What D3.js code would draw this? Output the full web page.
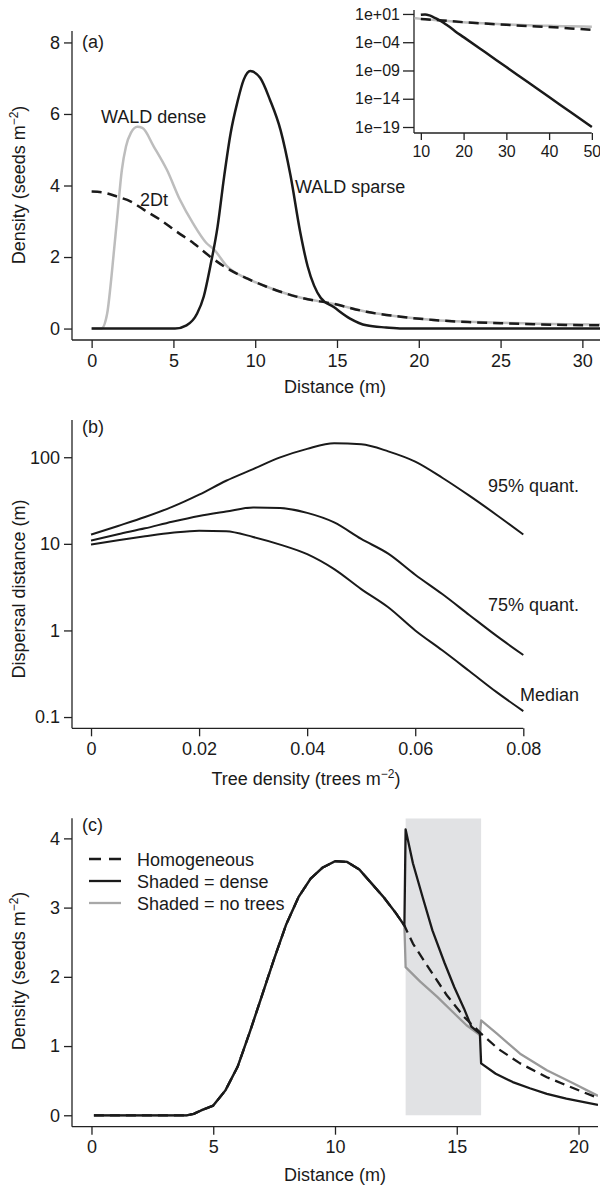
<!DOCTYPE html>
<html><head><meta charset="utf-8">
<script src="https://cdn.jsdelivr.net/npm/d3@7"></script>
<style>
body{margin:0;background:#fff}
svg text{font-family:"Liberation Sans",Arial,Helvetica,sans-serif;fill:#1a1a1a}
</style></head><body>
<svg id="chart" width="600" height="1187"></svg>
<script>
// ---------- Panel (a) data ----------
const waldDenseX = [0, 0.6, 0.95, 1.15, 1.35, 1.55, 1.85, 2.1, 2.4, 2.8, 3.1, 3.8, 4.6, 5.4, 6.2, 7.0, 7.5, 8.3, 9.5, 10.7, 12.8, 14.8, 16.8, 18.9, 20.9, 23, 25, 27, 29, 31.2];
const waldDenseY = [0, 0, 0.42, 1.17, 2.1, 3.04, 4.44, 5.09, 5.47, 5.64, 5.61, 5.09, 4.44, 3.6, 2.94, 2.4, 2.2, 1.73, 1.4, 1.17, 0.86, 0.69, 0.47, 0.33, 0.24, 0.19, 0.16, 0.14, 0.12, 0.11];
const twoDtX = [0, 0.75, 1.55, 2.4, 3.2, 4.2, 5.2, 6.25, 7.25, 8.3, 9.5, 10.7, 12.8, 14.8, 16.8, 18.9, 20.9, 23, 25, 27, 29, 31.2];
const twoDtY = [3.83, 3.8, 3.69, 3.55, 3.32, 3.04, 2.71, 2.38, 2.01, 1.68, 1.4, 1.17, 0.86, 0.69, 0.47, 0.33, 0.24, 0.18, 0.15, 0.12, 0.1, 0.09];
const waldSparseX = [0, 5.1, 5.8, 6.45, 6.85, 7.25, 7.7, 8.1, 8.5, 8.9, 9.3, 9.7, 10.3, 10.9, 11.55, 12.15, 12.75, 13.2, 13.6, 14.0, 14.8, 15.8, 16.8, 18.0, 19.0, 31.2];
const waldSparseY = [0, 0, 0.09, 0.42, 0.89, 1.73, 2.85, 4.25, 5.47, 6.31, 6.96, 7.2, 7.01, 6.4, 5.55, 4.3, 2.7, 1.75, 1.2, 0.86, 0.6, 0.28, 0.09, 0.03, 0, 0];
const xTicksA = [0, 5, 10, 15, 20, 25, 30];
const yTicksA = [0, 2, 4, 6, 8];

// ---------- Inset data (log scale) ----------
const insetSparseX = [10, 11, 12, 13, 14, 15, 16, 17, 18, 20, 25, 30, 35, 40, 45, 50];
const insetSparseY = [7.1, 8.0, 5.5, 2.6, 1.1, 0.4, 0.12, 0.035, 0.009, 8e-4, 1.8e-6, 4e-9, 9e-12, 2e-14, 4.5e-17, 1e-19];
const insetDenseX = [8.5, 10, 15, 20, 25, 30, 35, 40, 45, 50];
const insetDenseY = [1.8, 1.35, 0.7, 0.35, 0.22, 0.14, 0.1, 0.08, 0.065, 0.055];
const insetTwoDtX = [10, 15, 20, 25, 30, 35, 40, 45, 50];
const insetTwoDtY = [1.3, 0.7, 0.35, 0.2, 0.12, 0.075, 0.048, 0.028, 0.015];
const insetXTicks = [10, 20, 30, 40, 50];
const insetYTicks = [1e1, 1e-4, 1e-9, 1e-14, 1e-19];
const insetYLabels = ["1e+01", "1e\u221204", "1e\u221209", "1e\u221214", "1e\u221219"];

// ---------- Panel (b) data ----------
const treeDensity = [0, 0.005, 0.01, 0.015, 0.02, 0.025, 0.03, 0.035, 0.04, 0.045, 0.05, 0.055, 0.06, 0.065, 0.07, 0.075, 0.08];
const quant95 = [12.8, 16.1, 20.4, 26.7, 37, 53.5, 73, 99.5, 125, 145, 141, 117, 89, 58, 36, 21.7, 12.8];
const quant75 = [10.9, 12.9, 15.1, 18, 21, 23.6, 26.3, 26.0, 22.8, 17.7, 11.4, 7.7, 4.4, 2.63, 1.51, 0.87, 0.52];
const median = [9.8, 11.0, 12.2, 13.4, 14.2, 14.0, 12.0, 9.8, 7.6, 5.1, 3.0, 1.85, 1.0, 0.59, 0.34, 0.195, 0.117];
const xTicksB = [0, 0.02, 0.04, 0.06, 0.08];
const yTicksB = [0.1, 1, 10, 100];
const curveLabelsB = ["95% quant.", "75% quant.", "Median"];

// ---------- Panel (c) data ----------
const sharedX = [0.1, 3.9, 4.2, 4.5, 5.0, 5.5, 6.0, 6.5, 7.0, 7.5, 8.0, 8.5, 9.0, 9.5, 10.0, 10.5, 11.0, 11.5, 12.0, 12.5, 12.85];
const sharedY = [0, 0, 0.02, 0.07, 0.14, 0.36, 0.7, 1.2, 1.73, 2.26, 2.76, 3.15, 3.42, 3.58, 3.67, 3.66, 3.55, 3.35, 3.15, 2.92, 2.74];
const homTailX = [13.2, 13.9, 14.6, 15.3, 16.0, 16.7, 17.6, 18.7, 19.8, 20.8];
const homTailY = [2.48, 2.1, 1.73, 1.42, 1.18, 0.96, 0.75, 0.55, 0.39, 0.25];
const denseTailX = [12.9, 13.2, 13.6, 14.0, 14.5, 14.9, 15.3, 15.6, 15.95, 16.0, 16.6, 17.3, 18.0, 18.7, 19.5, 20.8];
const denseTailY = [4.13, 3.64, 3.15, 2.67, 2.2, 1.85, 1.54, 1.28, 1.18, 0.75, 0.6, 0.48, 0.39, 0.31, 0.24, 0.15];
const noTreesTailX = [12.9, 13.5, 14.2, 14.9, 15.4, 15.95, 16.0, 16.65, 17.6, 18.7, 19.8, 20.8];
const noTreesTailY = [2.14, 1.93, 1.71, 1.47, 1.30, 1.16, 1.37, 1.18, 0.89, 0.65, 0.46, 0.28];
const shadeRange = [12.9, 16.0];
const xTicksC = [0, 5, 10, 15, 20];
const yTicksC = [0, 1, 2, 3, 4];
const legendC = ["Homogeneous", "Shaded = dense", "Shaded = no trees"];

// ---------- drawing ----------
const svg = d3.select("#chart");
const INK = "#1a1a1a", AX = "#222";
const zip = (xs, ys) => xs.map((v, i) => [v, ys[i]]);

function panel(o) {
  const g = svg.append("g");
  const x = d3.scaleLinear().domain(o.xDomain).range([o.left, o.right]);
  const y = (o.yLog ? d3.scaleLog() : d3.scaleLinear()).domain(o.yDomain).range([o.bottom, o.top]);
  const fs = o.fontSize || 18;
  g.append("line").attr("x1", o.left).attr("x2", o.left).attr("y1", o.top).attr("y2", o.bottom)
    .attr("stroke", AX).attr("stroke-width", 1.3);
  g.append("line").attr("x1", o.left).attr("x2", o.xLineEnd != null ? o.xLineEnd : o.right)
    .attr("y1", o.bottom).attr("y2", o.bottom).attr("stroke", AX).attr("stroke-width", 1.3);
  const ya = d3.axisLeft(y).tickValues(o.yTicks).tickSize(o.yTickLen || 8).tickPadding(o.yPad || 4)
    .tickFormat(o.yFmt || d3.format("d"));
  const gy = g.append("g").attr("transform", `translate(${o.left},0)`).call(ya);
  const xa = d3.axisBottom(x).tickValues(o.xTicks).tickSize(o.xTickLen || 8).tickPadding(o.xPad || 6)
    .tickFormat(o.xFmt || d3.format("d"));
  const gx = g.append("g").attr("transform", `translate(0,${o.bottom})`).call(xa);
  [gx, gy].forEach(a => {
    a.select(".domain").remove();
    a.selectAll(".tick line").attr("stroke", AX).attr("stroke-width", 1.3);
    a.selectAll(".tick text").attr("font-size", fs).attr("fill", INK)
      .attr("font-family", '"Liberation Sans",Arial,sans-serif');
  });
  const id = "clip" + Math.random().toString(36).slice(2);
  svg.append("clipPath").attr("id", id).append("rect")
    .attr("x", o.left).attr("y", o.top).attr("width", o.right - o.left).attr("height", o.bottom - o.top);
  const plot = g.append("g").attr("clip-path", `url(#${id})`);
  return {g, plot, x, y};
}

function drawLine(p, data, color, width, dash, smooth) {
  const line = d3.line().x(d => p.x(d[0])).y(d => p.y(d[1]));
  if (smooth) line.curve(d3.curveMonotoneX);
  const path = p.plot.append("path").datum(data).attr("d", line)
    .attr("fill", "none").attr("stroke", color).attr("stroke-width", width)
    .attr("stroke-linejoin", "round").attr("stroke-linecap", "butt");
  if (dash) path.attr("stroke-dasharray", dash);
  return path;
}

function yTitle(x, cy, main, sup, tail) {
  const t = svg.append("text").attr("transform", `translate(${x},${cy}) rotate(-90)`)
    .attr("text-anchor", "middle").attr("font-size", 18);
  t.append("tspan").text(main);
  if (sup) {
    t.append("tspan").attr("font-size", 12).attr("dy", -7).text(sup);
    t.append("tspan").attr("dy", 7).text(tail);
  }
}
function xTitle(cx, by, main, sup, tail) {
  const t = svg.append("text").attr("x", cx).attr("y", by).attr("text-anchor", "middle").attr("font-size", 18);
  t.append("tspan").text(main);
  if (sup) {
    t.append("tspan").attr("font-size", 12).attr("dy", -7).text(sup);
    t.append("tspan").attr("dy", 7).text(tail);
  }
}
function label(x, y, s, anchor, fs) {
  svg.append("text").attr("x", x).attr("y", y).attr("font-size", fs || 18)
    .attr("text-anchor", anchor || "start").text(s);
}

// ---- Panel (a) ----
const pa = panel({left: 72, right: 602, top: 31, bottom: 340, xLineEnd: 600,
  xDomain: [-1.2, 31.2], yDomain: [-0.32, 8.32], xTicks: xTicksA, yTicks: yTicksA});
drawLine(pa, zip(waldDenseX, waldDenseY), "#bdbdbd", 2.5, null, true);
drawLine(pa, zip(twoDtX, twoDtY), INK, 2.5, "10,6", true);
drawLine(pa, zip(waldSparseX, waldSparseY), INK, 2.5, null, true);
label(82, 48, "(a)");
label(101, 123, "WALD dense");
label(140, 206, "2Dt");
label(295, 193, "WALD sparse");
yTitle(25, 185, "Density (seeds m", "\u22122", ")");
xTitle(335, 393, "Distance (m)");

// ---- Inset ----
const pi = panel({left: 414, right: 598.7, top: 10, bottom: 133, xLineEnd: 591.7,
  xDomain: [8.4, 51.6], yDomain: [Math.pow(10, -20.06), Math.pow(10, 1.7)], yLog: true,
  xTicks: insetXTicks, yTicks: insetYTicks, fontSize: 16,
  yFmt: (d) => insetYLabels[insetYTicks.indexOf(d)],
  yTickLen: 11, yPad: 3, xTickLen: 7, xPad: 6});
drawLine(pi, zip(insetDenseX, insetDenseY), "#bdbdbd", 2.5, null, true);
drawLine(pi, zip(insetTwoDtX, insetTwoDtY), INK, 2.5, "10,6", true);
drawLine(pi, zip(insetSparseX, insetSparseY), INK, 2.5, null, true);

// ---- Panel (b) ----
const pb = panel({left: 72, right: 560, top: 420, bottom: 728.3, xLineEnd: 523.3,
  xDomain: [-0.00352, 0.08 + (560 - 523.3) / 5404], yDomain: [Math.pow(10, -1.13), Math.pow(10, 2.43)], yLog: true,
  xTicks: xTicksB, yTicks: yTicksB,
  xFmt: d => d === 0 ? "0" : d3.format(".2f")(d), yFmt: d => String(d)});
[quant95, quant75, median].forEach(s => drawLine(pb, zip(treeDensity, s), INK, 2, null, true));
label(579, 492, curveLabelsB[0], "end");
label(579, 611, curveLabelsB[1], "end");
label(579, 701, curveLabelsB[2], "end");
label(82, 433, "(b)");
yTitle(25, 589, "Dispersal distance (m)");
xTitle(306, 785, "Tree density (trees m", "\u22122", ")");

// ---- Panel (c) ----
const pc = panel({left: 72, right: 598, top: 818.3, bottom: 1126.7,
  xDomain: [-0.8, 20.8], yDomain: [-0.165, 4.29], xTicks: xTicksC, yTicks: yTicksC});
pc.plot.insert("rect", ":first-child")
  .attr("x", pc.x(shadeRange[0])).attr("width", pc.x(shadeRange[1]) - pc.x(shadeRange[0]))
  .attr("y", 818.3).attr("height", pc.y(0) - 818.3).attr("fill", "#e1e2e4");
const shared = zip(sharedX, sharedY);
drawLine(pc, shared.concat(zip(noTreesTailX, noTreesTailY)), "#999999", 2.3);
drawLine(pc, shared.concat(zip(homTailX, homTailY)), INK, 2.3, "10,6");
drawLine(pc, shared.concat(zip(denseTailX, denseTailY)), INK, 2.3);
label(82, 831, "(c)");
const legStyles = [[INK, "12,8"], [INK, null], ["#a8a8a8", null]];
legendC.forEach((s, i) => {
  const yy = 859 + i * 22;
  const l = svg.append("line").attr("x1", 89).attr("x2", 121).attr("y1", yy).attr("y2", yy)
    .attr("stroke", legStyles[i][0]).attr("stroke-width", 2.3);
  if (legStyles[i][1]) l.attr("stroke-dasharray", legStyles[i][1]);
  label(137, yy + 6.5, s);
});
yTitle(25, 971, "Density (seeds m", "\u22122", ")");
xTitle(335, 1181, "Distance (m)");
</script>
</body></html>
